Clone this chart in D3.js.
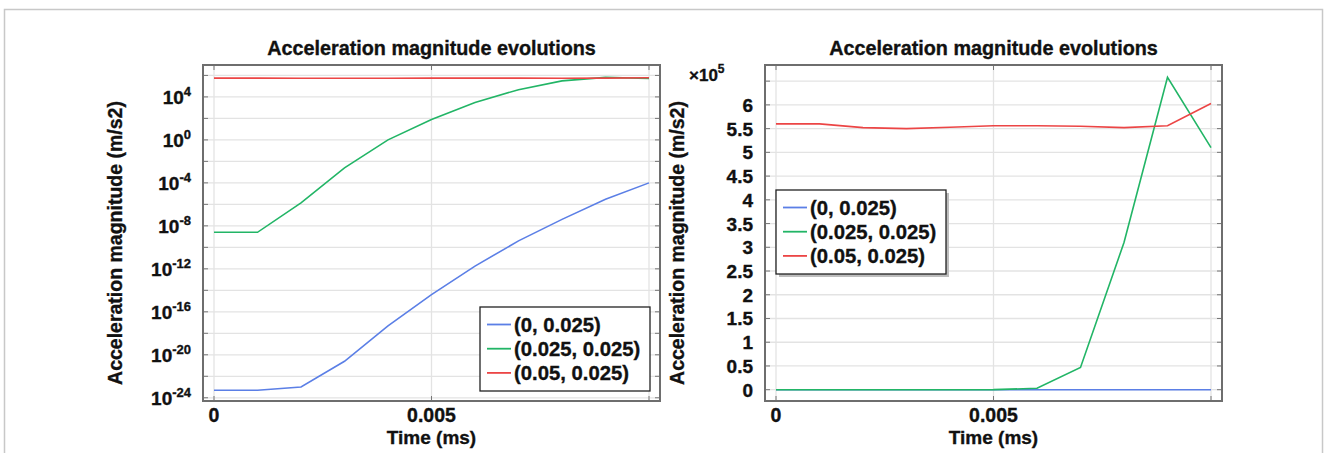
<!DOCTYPE html>
<html>
<head>
<meta charset="utf-8">
<script src="https://cdn.jsdelivr.net/npm/d3@7"></script>
<style>
  body { margin: 0; background: #fff; }
  text { font-family: "Liberation Sans", Arial, sans-serif; font-weight: bold; fill: #111;
         stroke: #111; stroke-width: 0.35; }
</style>
</head>
<body>
<div id="chart"></div>
<script>
// time samples (ms)
const times = [0, 0.001, 0.002, 0.003, 0.004, 0.005, 0.006, 0.007, 0.008, 0.009, 0.01];

const seriesNames = ["(0, 0.025)", "(0.025, 0.025)", "(0.05, 0.025)"];
const seriesColors = ["#5b7fe6", "#22b566", "#ec4545"];

// acceleration magnitude (m/s2) at each time sample
const accPoint1 = [5e-24, 5e-24, 1e-23, 2.5e-21, 5e-18, 4e-15, 1.8e-12, 4e-10, 4e-8, 3e-6, 1e-4];
const accPoint2 = [2.5e-9, 2.5e-9, 1.4e-6, 2.5e-3, 1, 80, 3000, 4.7e4, 3.1e5, 6.58e5, 5.1e5];
const accPoint3 = [5.6e5, 5.6e5, 5.52e5, 5.5e5, 5.53e5, 5.56e5, 5.56e5, 5.55e5, 5.52e5, 5.56e5, 6.03e5];

// tick values
const timeTicks = [0, 0.005, 0.01];
const timeTickLabels = ["0", "0.005", ""];
const logLabelExps = [4, 0, -4, -8, -12, -16, -20, -24];
const logGridExps = [6, 4, 2, 0, -2, -4, -6, -8, -10, -12, -14, -16, -18, -20, -22, -24];
const linTicks = [0, 0.5, 1, 1.5, 2, 2.5, 3, 3.5, 4, 4.5, 5, 5.5, 6, 6.5];

const width = 1328, height = 453;
const svg = d3.select('#chart')
    .append('svg')
        .attr('width', width)
        .attr('height', height);

// light figure border
svg.append('rect')
    .attr('x', 4.5).attr('y', 9.5)
    .attr('width', 1318).attr('height', 460)
    .attr('fill', 'none')
    .attr('stroke', '#c8c8c8')
    .attr('stroke-width', 1.5);

const allSeries = [accPoint1, accPoint2, accPoint3];

function drawPanel(left, yScale, gridVals, opts) {
    const top = 65, bottom = 401;
    const right = left + 457;
    const x = d3.scaleLinear()
        .domain([0, 0.01])
        .range([left + 11, right - 11]);

    const g = svg.append('g');

    // grid
    g.selectAll('.hgrid')
        .data(gridVals)
        .join('line')
            .attr('x1', left).attr('x2', right)
            .attr('y1', d => yScale(d)).attr('y2', d => yScale(d))
            .attr('stroke', '#e3e3e3').attr('stroke-width', 1.3);
    g.selectAll('.vgrid')
        .data(timeTicks)
        .join('line')
            .attr('x1', d => x(d)).attr('x2', d => x(d))
            .attr('y1', top).attr('y2', bottom)
            .attr('stroke', '#e3e3e3').attr('stroke-width', 1.3);

    // small tick marks on the frame
    const tk = 5;
    gridVals.forEach(v => {
        const yy = yScale(v);
        g.append('line').attr('x1', left).attr('x2', left + tk).attr('y1', yy).attr('y2', yy)
            .attr('stroke', '#777').attr('stroke-width', 1);
        g.append('line').attr('x1', right - tk).attr('x2', right).attr('y1', yy).attr('y2', yy)
            .attr('stroke', '#777').attr('stroke-width', 1);
    });
    timeTicks.forEach(v => {
        const xx = x(v);
        g.append('line').attr('x1', xx).attr('x2', xx).attr('y1', top).attr('y2', top + tk)
            .attr('stroke', '#777').attr('stroke-width', 1);
        g.append('line').attr('x1', xx).attr('x2', xx).attr('y1', bottom - tk).attr('y2', bottom)
            .attr('stroke', '#777').attr('stroke-width', 1);
    });

    // series lines
    const line = d3.line()
        .x((d, i) => x(times[i]))
        .y(d => yScale(opts.yValue(d)));
    allSeries.forEach((s, i) => {
        g.append('path')
            .datum(s)
            .attr('d', line)
            .attr('fill', 'none')
            .attr('stroke', seriesColors[i])
            .attr('stroke-width', 1.6);
    });

    // frame
    g.append('rect')
        .attr('x', left).attr('y', top)
        .attr('width', right - left).attr('height', bottom - top)
        .attr('fill', 'none')
        .attr('stroke', '#6e6e6e')
        .attr('stroke-width', 2);

    // x tick labels
    g.selectAll('.xlab')
        .data(timeTicks)
        .join('text')
            .attr('x', d => x(d))
            .attr('y', 422)
            .attr('text-anchor', 'middle')
            .attr('font-size', 19.5)
            .text((d, i) => timeTickLabels[i]);

    g.append('text')
        .attr('x', x(0.005))
        .attr('y', 444)
        .attr('text-anchor', 'middle')
        .attr('font-size', 19)
        .text('Time (ms)');

    // title
    g.append('text')
        .attr('x', x(0.005))
        .attr('y', 55)
        .attr('text-anchor', 'middle')
        .attr('font-size', 19.8)
        .text('Acceleration magnitude evolutions');

    // y axis label
    g.append('text')
        .attr('transform', `translate(${left - 81},${(top + bottom) / 2 + 10}) rotate(-90)`)
        .attr('text-anchor', 'middle')
        .attr('font-size', 19.5)
        .text('Acceleration magnitude (m/s2)');

    // legend
    const lg = g.append('g').attr('transform', `translate(${opts.legendX},${opts.legendY})`);
    const lw = 170, lh = 84;
    if (opts.shadow) {
        lg.append('rect').attr('x', 3).attr('y', 3).attr('width', lw).attr('height', lh)
            .attr('fill', '#bdbdbd');
    }
    lg.append('rect')
        .attr('width', lw).attr('height', lh)
        .attr('fill', '#fff')
        .attr('stroke', '#222')
        .attr('stroke-width', 1.3);
    seriesNames.forEach((name, i) => {
        const yy = 17.5 + i * 24.2;
        lg.append('line')
            .attr('x1', 7).attr('x2', 31)
            .attr('y1', yy).attr('y2', yy)
            .attr('stroke', seriesColors[i])
            .attr('stroke-width', 1.8);
        lg.append('text')
            .attr('x', 34).attr('y', yy + 7)
            .attr('font-size', 20.3)
            .text(name);
    });

    return g;
}

// left panel: logarithmic
const yLog = d3.scaleLog()
    .domain([Math.pow(10, -24.3), Math.pow(10, 6.97)])
    .range([401, 65]);

const leftPanel = drawPanel(203, yLog, logGridExps.map(e => Math.pow(10, e)), {
    yValue: d => d,
    legendX: 480, legendY: 307, shadow: false
});
leftPanel.selectAll('.ylab')
    .data(logLabelExps)
    .join('text')
        .attr('x', 191)
        .attr('y', d => yLog(Math.pow(10, d)) + 7)
        .attr('text-anchor', 'end')
        .attr('font-size', 19)
        .each(function(d) {
            const t = d3.select(this);
            t.append('tspan').text('10');
            t.append('tspan').attr('dy', -8).attr('font-size', 13).text(d);
        });

// right panel: linear, x10^5
const yLin = d3.scaleLinear()
    .domain([-0.238, 6.84])
    .range([401, 65]);

const rightPanel = drawPanel(765, yLin, linTicks, {
    yValue: d => d / 1e5,
    legendX: 776, legendY: 190, shadow: true
});
rightPanel.selectAll('.ylab')
    .data(linTicks.filter(d => d <= 6))
    .join('text')
        .attr('x', 753)
        .attr('y', d => yLin(d) + 7)
        .attr('text-anchor', 'end')
        .attr('font-size', 19)
        .text(d => d);

const expLabel = rightPanel.append('text')
    .attr('x', 689)
    .attr('y', 81)
    .attr('font-size', 17);
expLabel.append('tspan').text('×10');
expLabel.append('tspan').attr('dy', -8).attr('font-size', 12).text('5');
</script>
</body>
</html>
